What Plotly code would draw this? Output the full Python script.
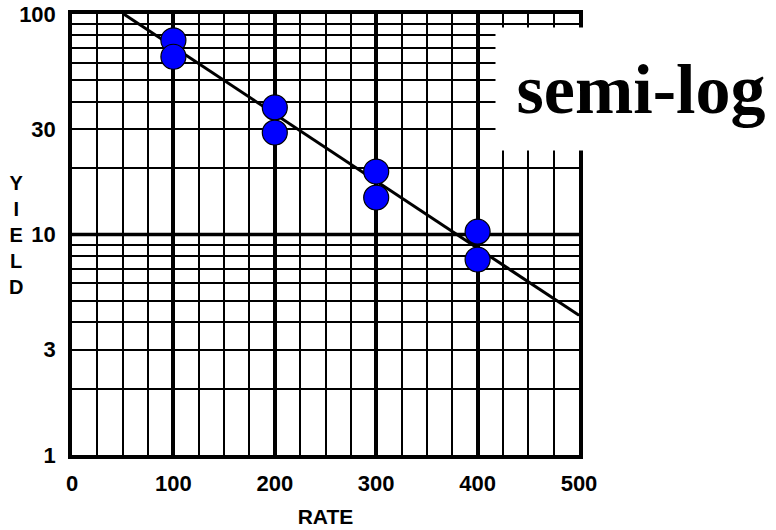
import plotly.graph_objects as go

# Data
rate = [100, 100, 200, 200, 300, 300, 400, 400]
yield_vals = [76, 64, 37.7, 29.0, 19.3, 14.7, 10.3, 7.7]

fit_rate = [51, 500]
fit_yield = [100, 4.3]

x_ticks = [0, 100, 200, 300, 400, 500]
y_ticks = [1, 3, 10, 30, 100]
y_minor = [d * m for m in (1, 10) for d in range(2, 10) if d * m not in y_ticks]

tick_font = dict(family="Liberation Sans, Arial, sans-serif", size=22, color="black", weight="bold")

fig = go.Figure()
fig.add_trace(go.Scatter(x=fit_rate, y=fit_yield, mode="lines",
                         line=dict(color="black", width=3), showlegend=False))
fig.add_trace(go.Scatter(x=rate, y=yield_vals, mode="markers",
                         marker=dict(symbol="circle", size=25, color="#0000ff",
                                     line=dict(color="black", width=1.2)),
                         showlegend=False))

fig.add_hline(y=10, line=dict(color="black", width=3.5), layer="below")

fig.update_layout(
    width=776, height=530,
    margin=dict(l=72, r=197, t=14, b=75, autoexpand=False),
    plot_bgcolor="white", paper_bgcolor="white",
    xaxis=dict(range=[0, 500], tickvals=x_ticks, ticktext=[str(v) for v in x_ticks],
               showgrid=True, gridcolor="black", gridwidth=3.5,
               minor=dict(dtick=25, showgrid=True, gridcolor="black", gridwidth=2.2),
               showline=True, mirror=True, linecolor="black", linewidth=3.5,
               zeroline=False, ticks="", tickfont=tick_font, ticklabelstandoff=6,
               automargin=False,
               title=dict(text="RATE", font=dict(family="Liberation Sans, Arial, sans-serif",
                                                 size=21, color="black", weight="bold"),
                          standoff=15)),
    yaxis=dict(type="log", range=[0, 2], tickvals=y_ticks, ticktext=[str(v) for v in y_ticks],
               showgrid=True, gridcolor="black", gridwidth=2.2,
               minor=dict(tickvals=y_minor, showgrid=True, gridcolor="black", gridwidth=2.2),
               showline=True, mirror=True, linecolor="black", linewidth=3.5,
               zeroline=False, ticks="", tickfont=tick_font, ticklabelstandoff=8,
               automargin=False),
    annotations=[
        dict(text="Y<br>I<br>E<br>L<br>D", xref="paper", yref="paper", x=-0.11, y=0.5,
             xanchor="center", yanchor="middle", showarrow=False, align="center",
             font=dict(family="Liberation Sans, Arial, sans-serif", size=20, color="black", weight="bold")),
        dict(text="semi-log", xref="paper", yref="paper", x=1.122, y=0.83,
             xanchor="center", yanchor="middle", showarrow=False, align="center",
             width=290, height=122, bgcolor="white", borderpad=0,
             font=dict(family="Liberation Serif, Times New Roman, serif", size=70, color="black", weight="bold")),
    ],
)

fig.write_html("out.html")
